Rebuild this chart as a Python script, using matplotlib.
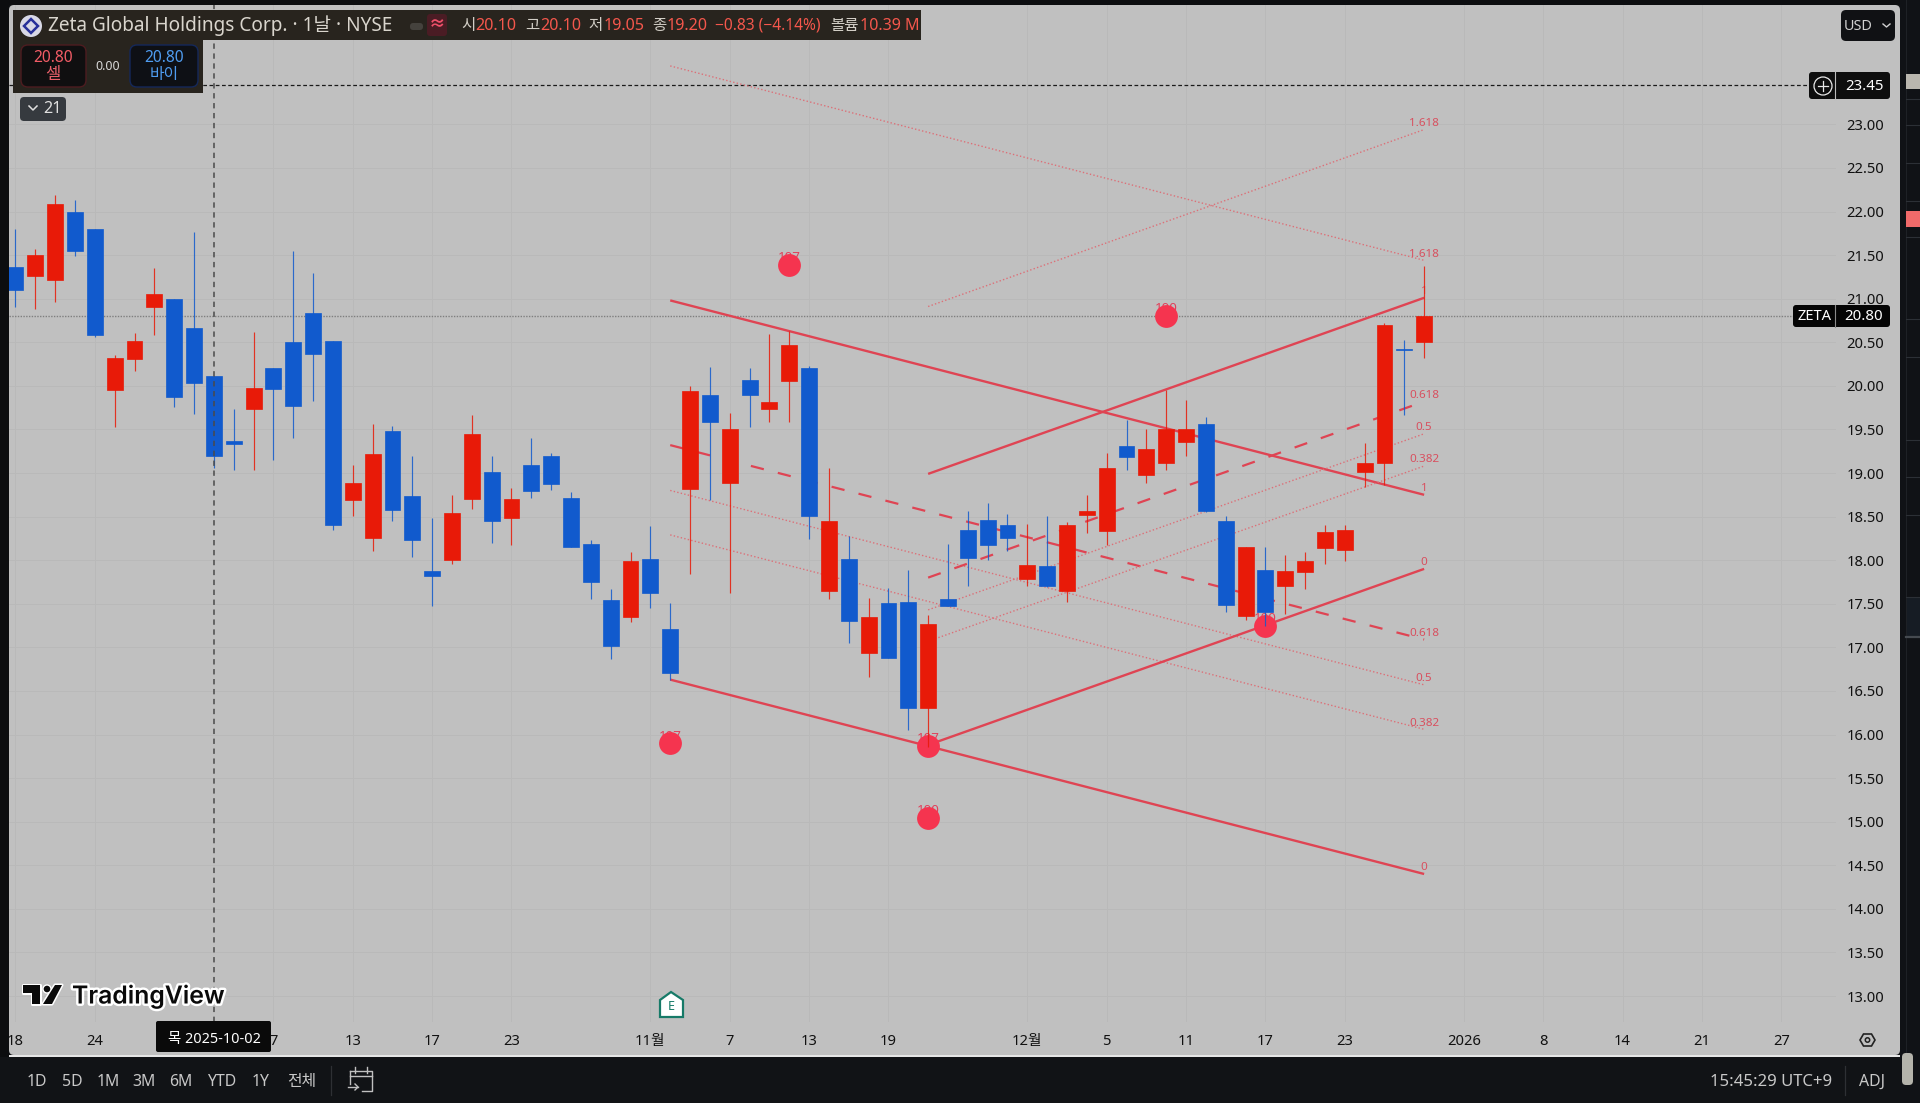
import matplotlib
matplotlib.use("Agg")
import matplotlib.pyplot as plt
import matplotlib.patheffects as pe
from matplotlib.patches import Rectangle, FancyBboxPatch, Circle, Polygon
from matplotlib.lines import Line2D
from matplotlib.transforms import Affine2D

FONT = ['Noto Sans', 'Noto Sans CJK KR', 'DejaVu Sans']
plt.rcParams['font.family'] = FONT

# ---------- data ----------
opens = [21.36,21.26,21.21,22.00,21.80,19.95,20.31,20.91,21.00,20.66,20.11,19.37,19.73,20.20,20.50,20.83,
         20.52,18.69,18.25,19.48,18.74,17.88,18.00,18.70,19.01,18.48,19.09,19.19,18.71,18.18,17.54,17.35,
         18.01,17.21,18.82,19.90,18.88,20.07,19.73,20.06,20.20,17.65,18.01,16.94,17.51,17.52,16.30,17.56,
         18.35,18.46,18.40,17.78,17.93,17.65,18.52,18.34,19.31,18.98,19.11,19.36,19.56,18.45,17.36,17.89,
         17.70,17.87,18.14,18.12,19.01,19.11,20.42,20.50]
highs = [21.80,21.57,22.19,22.13,21.80,20.35,20.61,21.35,21.00,21.77,20.11,19.74,20.62,20.20,21.55,21.30,
         20.52,19.09,19.56,19.54,19.19,18.48,18.75,19.67,19.19,18.83,19.40,19.23,18.78,18.23,17.67,18.09,
         18.39,17.51,20.00,20.22,19.69,20.20,20.59,20.63,20.23,19.06,18.28,17.57,17.68,17.89,17.37,18.18,
         18.56,18.66,18.53,18.41,18.51,18.44,18.75,19.23,19.61,19.51,19.95,19.84,19.64,18.51,18.15,18.15,
         18.06,18.09,18.40,18.40,19.35,20.72,20.53,21.37]
lows = [20.91,20.88,20.96,21.49,20.56,19.53,20.17,20.58,19.76,19.68,19.06,19.04,19.03,19.15,19.40,19.83,
        18.35,18.51,18.10,18.45,18.04,17.47,17.96,18.59,18.20,18.17,18.71,18.80,18.15,17.56,16.87,17.29,
        17.45,16.62,17.84,18.69,17.62,19.53,19.58,19.59,18.24,17.55,17.05,16.66,16.88,16.05,15.86,17.48,
        17.70,18.00,18.11,17.70,17.69,17.52,18.31,18.17,19.04,18.89,19.03,19.20,18.55,17.40,17.31,17.24,
        17.38,17.67,17.96,17.99,18.84,18.86,19.67,20.32]
closes = [21.10,21.50,22.09,21.55,20.58,20.32,20.52,21.05,19.87,20.03,19.19,19.33,19.98,19.96,19.77,20.37,
          18.40,18.89,19.22,18.57,18.23,17.82,18.54,19.45,18.45,18.70,18.79,18.87,18.15,17.75,17.01,17.99,
          17.62,16.70,19.94,19.58,19.51,19.89,19.81,20.47,18.51,18.45,17.30,17.35,16.88,16.30,17.27,17.48,
          18.03,18.17,18.25,17.95,17.70,18.40,18.56,19.06,19.18,19.27,19.51,19.51,18.56,17.49,18.15,17.40,
          17.88,17.99,18.32,18.35,19.11,20.70,20.41,20.80]

price_ticks = [13.0,13.5,14.0,14.5,15.0,15.5,16.0,16.5,17.0,17.5,18.0,18.5,19.0,19.5,20.0,20.5,21.0,21.5,22.0,22.5,23.0]
date_ticks = [0,4,13,17,21,25,32,36,40,44,51,55,59,63,67,73,77,81,85,89]
date_labels = ['18','24','7','13','17','23','11월','7','13','19','12월','5','11','17','23','2026','8','14','21','27']

fib_levels = ['0','0.382','0.5','0.618','1','1.618']
down_x = [33, 71]
down_start = [16.63,18.29,18.80,19.32,20.98,23.67]
down_end = [14.40,16.06,16.57,17.09,18.75,21.44]
up_x = [46, 71]
up_start = [15.88,17.07,17.43,17.80,18.99,20.91]
up_end = [17.90,19.08,19.45,19.82,21.01,22.94]

dot_x = [39,58,33,46,46,63]
dot_y = [21.39,20.80,15.90,15.87,15.04,17.25]
dot_labels = ['107','100','107','107','100','100']

last_price = 20.80
cross_price = 23.45
cross_idx = 10

# ---------- figure ----------
W, H = 1920, 1103
fig = plt.figure(figsize=(W/100, H/100), dpi=100, facecolor='#0f1114')
T = Affine2D().scale(1/W, -1/H).translate(0, 1) + fig.transFigure

def box(x, y, w, h, fc, r=0, ec='none', lw=0, z=1, alpha=None):
    if r:
        p = FancyBboxPatch((x, y), w, h, boxstyle=f"round,pad=0,rounding_size={r}",
                           fc=fc, ec=ec, lw=lw, transform=T, zorder=z, alpha=alpha)
    else:
        p = Rectangle((x, y), w, h, fc=fc, ec=ec, lw=lw, transform=T, zorder=z, alpha=alpha)
    fig.add_artist(p)

def txt(x, y, s, c='#d8d8d8', fs=10.4, ha='center', fw='normal', z=12, **kw):
    return fig.text(x, y, s, color=c, fontsize=fs, ha=ha, va='center', fontweight=fw,
                    transform=T, zorder=z, family=FONT, **kw)

def pline(xs, ys, c='#d8d8d8', lw=1.0, z=12, ls='-'):
    fig.add_artist(Line2D(xs, ys, color=c, lw=lw, transform=T, zorder=z, ls=ls))

# chart panel
box(9, 5, 1891, 1050, '#c0c0c0', r=5, z=-5)

ax = fig.add_axes([9/W, 1-1022/H, (1836-9)/W, (1022-5)/H], zorder=1)
ax.patch.set_alpha(0)
for s in ax.spines.values():
    s.set_visible(False)
ax.set_xlim(-0.3276, 91.76)
ax.set_ylim(12.702, 24.369)
ax.yaxis.tick_right()
ax.set_yticks(price_ticks)
ax.set_yticklabels([f'{v:.2f}' for v in price_ticks], fontsize=10.6, color='#111111')
ax.set_xticks(date_ticks)
ax.set_xticklabels(date_labels, fontsize=10.6, color='#111111')
for lab, name in zip(ax.get_xticklabels(), date_labels):
    if name == '2026':
        lab.set_fontweight('bold')
ax.tick_params(axis='both', length=0)
ax.tick_params(axis='y', pad=7.5)
ax.tick_params(axis='x', pad=8.5)
ax.grid(True, color='#b9b9b9', lw=0.7, zorder=0)
ax.set_axisbelow(True)

# price line and crosshair
ax.axhline(last_price, color='#7f7f7f', lw=1, ls=(0, (1, 1)), zorder=1)
ax.axhline(cross_price, color='#1a1a1a', lw=0.9, ls=(0, (3, 2)), zorder=1, xmax=(1809-9)/(1836-9))
ax.axvline(cross_idx, color='#4a4a4a', lw=1.1, ls=(0, (3.5, 3)), zorder=6)

# fib channels
LINE = '#df4453'
DOT = '#dc7078'
for sx, st, en in ((down_x, down_start, down_end), (up_x, up_start, up_end)):
    for lev, a, b in zip(fib_levels, st, en):
        if lev in ('0', '1'):
            ax.plot(sx, [a, b], color=LINE, lw=1.7, zorder=2, solid_capstyle='butt')
        elif lev == '0.618':
            ax.plot(sx, [a, b], color=LINE, lw=1.6, ls=(0, (6, 6.5)), zorder=2)
        else:
            ax.plot(sx, [a, b], color=DOT, lw=1.0, ls=(0, (1, 1.6)), zorder=2)
        ax.annotate(lev, (sx[1], b), xytext=(0, 4.4), textcoords='offset points', ha='center',
                    va='center', fontsize=8.4, color='#d8505f', zorder=2.2)

# pivots
for x, y, s in zip(dot_x, dot_y, dot_labels):
    ax.annotate(s, (x, y), xytext=(0, 5.2), textcoords='offset points', ha='center', va='center',
                fontsize=9.6, color='#e0405a', zorder=2.6)
ax.scatter(dot_x, dot_y, s=270, color='#f5344f', linewidths=0, zorder=3)

# candles
idx = list(range(len(opens)))
cols = ['#e81a08' if c >= o else '#115acd' for o, c in zip(opens, closes)]
ax.vlines(idx, lows, highs, colors=cols, lw=0.85, zorder=4, alpha=0.85)
ax.bar(idx, [abs(c-o) for o, c in zip(opens, closes)], bottom=[min(o, c) for o, c in zip(opens, closes)],
       width=0.8, color=cols, edgecolor=cols, linewidth=0.5, zorder=5)

# E marker
fig.add_artist(Polygon([(660, 1000), (671, 992), (683, 1000), (683, 1017), (660, 1017)], closed=True,
                       fc='white', ec='#177a68', lw=1.6, transform=T, zorder=8))
txt(671, 1006, 'E', c='#177a68', fs=9, fw='bold', z=9)

# TradingView logo
for pts in ([(23, 985), (40, 985), (40, 1004), (32, 1004), (32, 993), (23, 993)],
            [(55, 985), (62, 985), (52, 1004), (43, 1004)]):
    fig.add_artist(Polygon(pts, closed=True, fc='#0a0a0a', ec='white', lw=2.2, transform=T, zorder=8, joinstyle='round'))
    fig.add_artist(Polygon(pts, closed=True, fc='#0a0a0a', ec='none', transform=T, zorder=8.1))
fig.add_artist(Circle((47, 989), 4, fc='#0a0a0a', ec='white', lw=1, transform=T, zorder=8))
t = fig.text(72, 996, 'TradingView', color='#0a0a0a', fontsize=17.8, ha='left', va='center', fontweight='semibold',
             transform=T, zorder=9, family=['Inter', 'DejaVu Sans'])
t.set_path_effects([pe.withStroke(linewidth=3.5, foreground='white')])

# ---------- top legend ----------
box(13, 10, 908, 30, '#28241e', z=10)
box(13, 40, 190, 53, '#28241e', z=10)
fig.add_artist(Circle((31, 26), 11, fc='#d8d8e6', ec='none', transform=T, zorder=11))
fig.add_artist(Polygon([(31, 19), (38, 26), (31, 33), (24, 26)], closed=True, fc='none', ec='#27309a', lw=1.8, transform=T, zorder=12))
txt(48, 26, 'Zeta Global Holdings Corp. · 1날 · NYSE', c='#d9d5cd', fs=13.7, ha='left')
box(410, 23, 13, 7, '#45423d', r=3, z=11)
box(427, 14, 20, 22, '#4a1c24', r=3, z=11)
txt(437, 25, '≈', c='#f0506a', fs=12, fw='bold')
RD = '#f4574c'
GY = '#d2cec6'
for x, s, c, f in ((461, '시', GY, 11.2), (475, '20.10', RD, 11.6), (525, '고', GY, 11.2), (540, '20.10', RD, 11.6),
                   (588, '저', GY, 11.2), (604, '19.05', RD, 11.6), (652, '종', GY, 11.2), (667, '19.20', RD, 11.6),
                   (715, '−0.83 (−4.14%)', RD, 11.2), (830, '볼륨', GY, 11.2), (860, '10.39 M', RD, 11.6)):
    txt(x, 26, s, c=c, fs=f, ha='left')
box(21, 45, 65, 42, '#100f10', r=7, ec='#4d1c20', lw=1, z=11)
txt(53, 58, '20.80', c='#f25c66', fs=11.2)
txt(53, 75, '셀', c='#e8606a', fs=12)
txt(108, 66, '0.00', c='#d8d8d8', fs=9)
box(130, 45, 68, 42, '#0e1015', r=7, ec='#14285a', lw=1, z=11)
txt(164, 58, '20.80', c='#4f9cf0', fs=11.2)
txt(164, 75, '바이', c='#4f9cf0', fs=11.4)
box(20, 97, 46, 24, '#363a3f', r=4, z=10)
pline([29, 33, 37], [106, 110, 106], c='#e0e0e0', lw=1.1)
txt(52, 109, '21', c='#e0e0e0', fs=11.6)

# ---------- right side labels ----------
box(1841, 10, 54, 31, '#101114', r=5, z=10)
txt(1858, 26, 'USD', c='#d0d0d0', fs=10.4)
pline([1883, 1886.5, 1890], [24, 27, 24], c='#d0d0d0', lw=1)
box(1809, 72, 81, 27, '#0e0e0e', r=3, z=10)
pline([1835, 1835], [72, 99], c='#bcbcbc', lw=0.8)
fig.add_artist(Circle((1823, 86), 9, fc='none', ec='#e8e8e8', lw=0.9, transform=T, zorder=12))
pline([1818, 1828], [86, 86], c='#e8e8e8', lw=0.9)
pline([1823, 1823], [81, 91], c='#e8e8e8', lw=0.9)
txt(1865, 86, '23.45', c='white', fs=10.8, fw='bold')
box(1793, 305, 97, 22, '#050505', r=3, z=10)
pline([1835, 1835], [305, 327], c='#8a8a8a', lw=0.8)
txt(1814, 316, 'ZETA', c='white', fs=10.6)
txt(1864, 316, '20.80', c='white', fs=10.8)
fig.add_artist(Polygon([(1860, 1040), (1863.5, 1034), (1871.5, 1034), (1875, 1040), (1871.5, 1046), (1863.5, 1046)],
                       closed=True, fc='none', ec='#222', lw=1.2, transform=T, zorder=12))
fig.add_artist(Circle((1867.5, 1040), 2.2, fc='none', ec='#222', lw=1.1, transform=T, zorder=12))

# date box
box(156, 1021, 115, 31, '#0a0a0a', r=2, z=10)
txt(214, 1040, '목 2025-10-02', c='white', fs=10.4)

# ---------- frame strips ----------
box(0, 0, 9, H, '#0c0d0f', z=7)
box(0, 0, W, 5, '#0c0d0f', z=7)
box(9, 1055, 1891, 2, '#e6e6e6', z=7)
box(0, 1057, W, 46, '#111316', z=7)
box(1900, 0, 20, H, '#101216', z=7)
pline([1906, 1906], [0, 1055], c='#1e2126', lw=0.8, z=8)
box(1906, 74, 14, 15, '#b9b6ae', z=8)
box(1906, 211, 14, 16, '#f06a6a', z=8)
for yy in (99, 125, 163, 201, 237, 319, 357, 440, 477, 515, 597):
    pline([1906, 1920], [yy, yy], c='#2c3036', lw=0.8, z=8)
pline([1906, 1920], [637, 637], c='#454a50', lw=1.6, z=8)
box(1906, 597, 14, 40, '#161c24', z=7.5)
box(1902, 1053, 11, 32, '#b4b3ab', r=4, z=9)

# ---------- bottom bar ----------
for x, s in zip((37, 72, 108, 144, 181, 222, 261, 302), ('1D', '5D', '1M', '3M', '6M', 'YTD', '1Y', '전체')):
    txt(x, 1082, s, c='#c8c8c8', fs=11.4)
pline([331, 331], [1066, 1095], c='#2e3034', lw=0.9)
pline([350, 350], [1084, 1071], c='#c0c0c0', lw=1)
pline([350, 372, 372, 362], [1071, 1071, 1091, 1091], c='#c0c0c0', lw=1)
pline([350, 372], [1076, 1076], c='#c0c0c0', lw=1)
pline([355, 355], [1067, 1073], c='#c0c0c0', lw=1)
pline([367, 367], [1067, 1073], c='#c0c0c0', lw=1)
pline([348, 358], [1087, 1087], c='#c0c0c0', lw=1)
pline([355, 358, 355], [1084, 1087, 1090], c='#c0c0c0', lw=1)
txt(1771, 1082, '15:45:29 UTC+9', c='#c8c8c8', fs=12)
pline([1845, 1845], [1066, 1095], c='#2e3034', lw=0.9)
txt(1872, 1082, 'ADJ', c='#c8c8c8', fs=11.4)

fig.savefig('out.png', dpi=100, facecolor=fig.get_facecolor())
